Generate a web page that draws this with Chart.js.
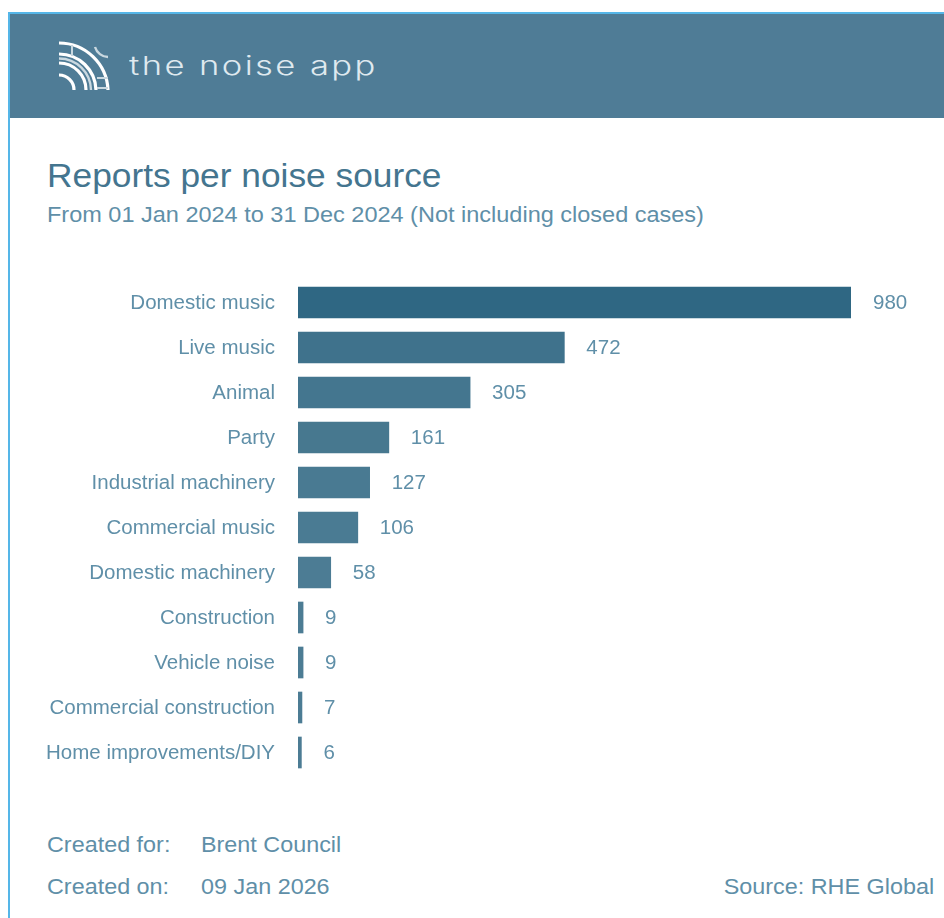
<!DOCTYPE html>
<html>
<head>
<meta charset="utf-8">
<title>Reports per noise source</title>
<script src="https://cdn.jsdelivr.net/npm/chart.js@4"></script>
<style>
  html, body { margin: 0; padding: 0; background: #fff; width: 944px; height: 918px; overflow: hidden; }
  body { font-family: "Liberation Sans", Arial, sans-serif; color: #5f8fa8; position: relative; }
  .card { position: absolute; left: 8px; top: 12px; width: 940px; height: 910px; border-left: 2px solid #55b6e8; border-top: 2px solid #55b6e8; box-sizing: border-box; }
  .banner { position: absolute; left: 10px; top: 14px; width: 934px; height: 104px; background: #4f7c96; }
  .banner svg { position: absolute; left: 46px; top: 26px; }
  .brand { position: absolute; left: 119px; top: 36px; font: 300 26px Inter, sans-serif; letter-spacing: 1.8px; color: #dfe9ef; white-space: nowrap; transform: scaleX(1.33); transform-origin: left top; }
  .txt { position: absolute; white-space: nowrap; line-height: 1; transform-origin: left top; }
  #title { left: 47px; top: 159px; font-size: 33.5px; color: #44758f; transform: scaleX(1.054); }
  #subtitle { left: 47px; top: 204px; font-size: 22px; transform: scaleX(1.068); }
  .foot { font-size: 22px; transform: scaleX(1.062); }
  #forLabel { left: 47px; top: 834px; }
  #forValue { left: 201px; top: 834px; }
  #onLabel { left: 47px; top: 876px; }
  #onValue { left: 201px; top: 876px; }
  #source { right: 10px; top: 876px; transform-origin: right top; }
  #noiseChart { position: absolute; left: 0; top: 260px; }
</style>
</head>
<body>
<div class="card"></div>
<div class="banner">
  <svg width="70" height="60" viewBox="0 0 70 60" fill="none" stroke="#fff">
    <g stroke-width="3.2">
      <path d="M3 35 A15 15 0 0 1 18 50"/>
      <path d="M3 23 A27 27 0 0 1 30 50"/>
      <path d="M3 14 A37 37 0 0 1 40 50"/>
      <path d="M3 3 A49 49 0 0 1 52 50"/>
    </g>
    <g stroke="#c9d8e0" stroke-width="2">
      <path d="M3 18.5 A32 32 0 0 1 35 50" stroke-width="2.4"/>
      <path d="M16 5 L16 16"/>
      <path d="M41 38 L52 38"/>
      <path d="M41 48 L52 48"/>
      <path d="M39 7 A14 14 0 0 0 52 17" stroke-width="2.4"/>
    </g>
  </svg>
  <div class="brand">the noise app</div>
</div>
<div class="txt" id="title">Reports per noise source</div>
<div class="txt" id="subtitle">From 01 Jan 2024 to 31 Dec 2024 (Not including closed cases)</div>
<canvas id="noiseChart" width="944" height="540"></canvas>
<div class="txt foot" id="forLabel">Created for:</div>
<div class="txt foot" id="forValue">Brent Council</div>
<div class="txt foot" id="onLabel">Created on:</div>
<div class="txt foot" id="onValue">09 Jan 2026</div>
<div class="txt foot" id="source">Source: RHE Global</div>
<script>
const sources = ['Domestic music', 'Live music', 'Animal', 'Party', 'Industrial machinery', 'Commercial music',
    'Domestic machinery', 'Construction', 'Vehicle noise', 'Commercial construction', 'Home improvements/DIY'];
const reports = [980, 472, 305, 161, 127, 106, 58, 9, 9, 7, 6];
const barColors = ['#2f6783', '#3f728c', '#44768f', '#47788f', '#497a92', '#4a7b93', '#4c7c94', '#4c7c94', '#4c7c94', '#4c7c94', '#4c7c94'];
const textColor = '#5f8fa8';
const labelFont = '20.5px "Liberation Sans", Arial, sans-serif';

// value printed just past the end of each bar
const barValues = {
    id: 'barValues',
    afterDatasetsDraw(chart) {
        const { ctx } = chart;
        ctx.save();
        ctx.font = labelFont;
        ctx.fillStyle = textColor;
        ctx.textBaseline = 'middle';
        chart.getDatasetMeta(0).data.forEach((bar, i) => {
            ctx.fillText(reports[i], bar.x + 22, bar.y + 1);
        });
        ctx.restore();
    }
};

new Chart('noiseChart', {
    type: 'bar',
    data: {
        labels: sources,
        datasets: [{ data: reports, backgroundColor: barColors, barThickness: 31 }]
    },
    options: {
        indexAxis: 'y',
        responsive: false,
        animation: false,
        layout: { padding: { top: 20, bottom: 25, right: 93 } },
        plugins: { legend: { display: false }, tooltip: { enabled: false } },
        scales: {
            x: { display: false, min: 0, max: 980 },
            y: {
                // fixed gutter for the category names, no extra room above or below
                afterFit: (scale) => {
                    scale.width = 298;
                    scale.paddingTop = 0;
                    scale.paddingBottom = 0;
                },
                grid: { display: false, drawTicks: false },
                border: { display: false },
                ticks: {
                    padding: 23,
                    labelOffset: 1,
                    color: textColor,
                    font: { family: '"Liberation Sans", Arial, sans-serif', size: 20.5 }
                }
            }
        }
    },
    plugins: [barValues]
});
</script>
</body>
</html>
